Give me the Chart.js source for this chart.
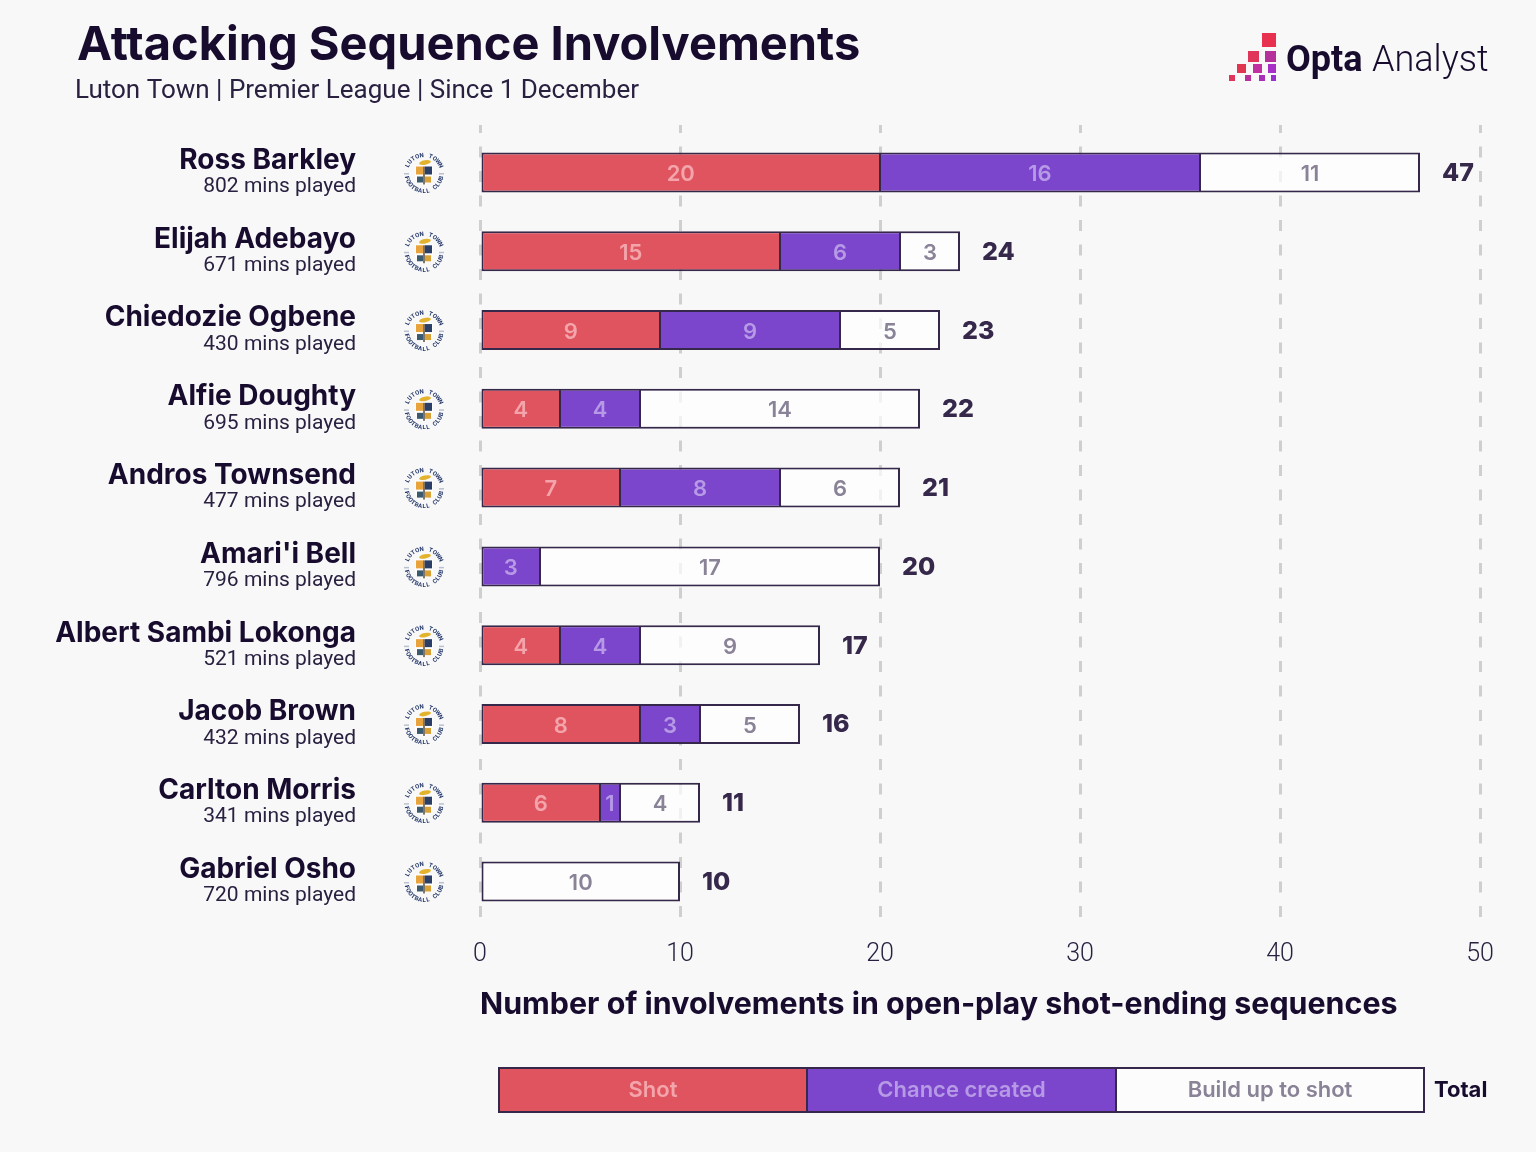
<!DOCTYPE html>
<html>
<head>
<meta charset="utf-8">
<title>Attacking Sequence Involvements</title>
<script src="https://cdn.jsdelivr.net/npm/chart.js@4"></script>
<style>
  html, body { margin: 0; padding: 0; background: #f8f8f8; }
  canvas { display: block; }
</style>
</head>
<body>
<canvas id="myChart" width="1536" height="1152"></canvas>
<script>
const players = ["Ross Barkley", "Elijah Adebayo", "Chiedozie Ogbene", "Alfie Doughty", "Andros Townsend", "Amari'i Bell", "Albert Sambi Lokonga", "Jacob Brown", "Carlton Morris", "Gabriel Osho"];
const minsPlayed = [802, 671, 430, 695, 477, 796, 521, 432, 341, 720];
const shots = [20, 15, 9, 4, 7, 0, 4, 8, 6, 0];
const chances = [16, 6, 9, 4, 8, 3, 4, 3, 1, 0];
const buildUp = [11, 3, 5, 14, 6, 17, 9, 5, 4, 10];
const totals = [47, 24, 23, 22, 21, 20, 17, 16, 11, 10];
const seriesNames = ["Shot", "Chance created", "Build up to shot"];
const xTicks = [0, 10, 20, 30, 40, 50];

const INK = "#170b2e";
const EDGE = "#35284a";
const RED = "#e0545f";
const PURPLE = "#7b45cc";
const WHITE = "rgba(255,255,255,0.7)";
const labelColors = ["#f3a5ab", "#b79ae6", "#8a8296"];
const FONT = "Roboto, sans-serif";
const WIDE = "Inter, sans-serif";

function text(ctx, str, x, y, font, color, align) {
  ctx.font = font;
  ctx.fillStyle = color;
  ctx.textAlign = align || "left";
  ctx.textBaseline = "middle";
  ctx.fillText(str, x, y);
}

// letters going round the badge
function arcText(ctx, str, cx, cy, r, midAngle, step, flip) {
  for (let i = 0; i < str.length; i++) {
    const offs = (i - (str.length - 1) / 2) * step;
    const a = flip ? midAngle - offs : midAngle + offs;
    ctx.save();
    ctx.translate(cx + r * Math.cos(a), cy + r * Math.sin(a));
    ctx.rotate(flip ? a - Math.PI / 2 : a + Math.PI / 2);
    ctx.fillText(str[i], 0, 0);
    ctx.restore();
  }
}

function drawCrest(ctx, cx, cy) {
  ctx.save();
  ctx.font = "bold 6px " + FONT;
  ctx.fillStyle = "#24386b";
  ctx.textAlign = "center";
  ctx.textBaseline = "middle";
  arcText(ctx, "LUTON TOWN", cx, cy, 18, -Math.PI / 2, 0.25, false);
  arcText(ctx, "FOOTBALL CLUB", cx, cy, 18, Math.PI / 2, 0.22, true);
  ctx.fillStyle = "#b9c0cf";
  ctx.fillRect(cx - 20, cy - 0.5, 5, 1.5);
  ctx.fillRect(cx + 15, cy - 0.5, 5, 1.5);
  // shield
  const l = cx - 8, t = cy - 7, w = 16, h = 18;
  ctx.fillStyle = "#fff";
  ctx.beginPath();
  ctx.moveTo(l - 1, t - 1);
  ctx.lineTo(l + w + 1, t - 1);
  ctx.lineTo(l + w + 1, t + h * 0.7);
  ctx.lineTo(cx, t + h + 1);
  ctx.lineTo(l - 1, t + h * 0.7);
  ctx.closePath();
  ctx.fill();
  ctx.fillStyle = "#e8a33d";
  ctx.fillRect(l, t, w / 2 - 1, h / 2 - 1);
  ctx.fillStyle = "#2b3f66";
  ctx.fillRect(l + w / 2 + 1, t, w / 2 - 1, h / 2 - 1);
  ctx.fillStyle = "#3c5a6e";
  ctx.fillRect(l + 1, t + h / 2 + 1, w / 2 - 2, h / 2 - 3);
  ctx.fillStyle = "#d9a033";
  ctx.fillRect(l + w / 2 + 1, t + h / 2 + 1, w / 2 - 2, h / 2 - 3);
  ctx.fillStyle = "#5a4a38";
  ctx.fillRect(cx - 0.75, t, 1.5, h);
  ctx.fillStyle = "#e3b32e";
  ctx.beginPath();
  ctx.ellipse(cx + 1, t - 4, 6, 2.2, -0.2, 0, Math.PI * 2);
  ctx.fill();
  ctx.restore();
}

function drawLogo(ctx) {
  const squares = [
    [1262, 33, 14, 14, "#e8304f"], [1248, 51, 11, 11, "#e0355a"], [1265, 51, 11, 11, "#b5309a"],
    [1237, 64, 9, 9, "#e0354f"], [1253, 64, 9, 9, "#c030a0"], [1268, 64, 8, 9, "#a830c8"],
    [1229, 75, 6, 6, "#e0355a"], [1245, 75, 6, 6, "#b8309c"], [1259, 75, 6, 6, "#a830b8"], [1271, 75, 5, 6, "#9a30d0"]
  ];
  squares.forEach(s => {
    ctx.fillStyle = s[4];
    ctx.fillRect(s[0], s[1], s[2], s[3]);
  });
  text(ctx, "Opta", 1286, 62, "bold 36px " + FONT, INK);
  text(ctx, "Analyst", 1372, 62, "300 36px " + FONT, INK);
}

function drawLegend(ctx) {
  const fills = [RED, PURPLE, "#fcfcfc"];
  const edges = [499, 807, 1116, 1424];
  const top = 1068, h = 44;
  seriesNames.forEach((name, i) => {
    ctx.fillStyle = fills[i];
    ctx.fillRect(edges[i], top, edges[i + 1] - edges[i], h);
    ctx.strokeStyle = EDGE;
    ctx.lineWidth = 2;
    ctx.strokeRect(edges[i], top, edges[i + 1] - edges[i], h);
    text(ctx, name, (edges[i] + edges[i + 1]) / 2, top + h / 2, "600 22px " + WIDE, labelColors[i], "center");
  });
  text(ctx, "Total", 1434, top + h / 2, "bold 22px " + WIDE, INK);
}

const sheetPlugin = {
  id: "sheet",
  beforeDraw(chart) {
    const ctx = chart.ctx;
    ctx.save();
    ctx.fillStyle = "#f8f8f8";
    ctx.fillRect(0, 0, chart.width, chart.height);
    text(ctx, "Attacking Sequence Involvements", 77, 46, "bold 47px " + WIDE, INK);
    text(ctx, "Luton Town | Premier League | Since 1 December", 75, 91, "400 26px " + FONT, "#2a2040");
    drawLogo(ctx);
    drawLegend(ctx);
    ctx.restore();
  },
  afterDatasetsDraw(chart) {
    const ctx = chart.ctx;
    const x = chart.scales.x, y = chart.scales.y;
    ctx.save();
    chart.data.datasets.forEach((ds, d) => {
      chart.getDatasetMeta(d).data.forEach((bar, i) => {
        if (!ds.data[i]) return;
        const c = bar.getCenterPoint();
        text(ctx, String(ds.data[i]), c.x, c.y + 2, "600 22px " + WIDE, labelColors[d], "center");
      });
    });
    players.forEach((name, i) => {
      const py = y.getPixelForValue(i);
      text(ctx, minsPlayed[i] + " mins played", 356, py + 14.5, "400 21px " + FONT, "#2a2040", "right");
      drawCrest(ctx, 424, py + 1);
      text(ctx, String(totals[i]), x.getPixelForValue(totals[i]) + 22, py + 1, "800 25px " + WIDE, EDGE);
    });
    ctx.restore();
  }
};

// segments share an edge, so inner sides get half width and the seam stays 2px
function segmentBorder(c) {
  if (c.dataIndex === undefined) return 2;
  const before = c.chart.data.datasets.slice(0, c.datasetIndex).reduce((n, ds) => n + ds.data[c.dataIndex], 0);
  const isLast = c.datasetIndex === c.chart.data.datasets.length - 1;
  return { top: 2, bottom: 2, left: before === 0 ? 2 : 1, right: isLast ? 2 : 1 };
}

const barStyle = { borderColor: EDGE, borderWidth: segmentBorder, inflateAmount: 0, borderSkipped: false, barThickness: 40 };

new Chart(document.getElementById("myChart").getContext("2d"), {
  type: "bar",
  plugins: [sheetPlugin],
  data: {
    labels: players.map((p, i) => i),
    datasets: [
      Object.assign({ label: seriesNames[0], data: shots, backgroundColor: RED }, barStyle),
      Object.assign({ label: seriesNames[1], data: chances, backgroundColor: PURPLE }, barStyle),
      Object.assign({ label: seriesNames[2], data: buildUp, backgroundColor: WHITE }, barStyle)
    ]
  },
  options: {
    indexAxis: "y",
    responsive: false,
    animation: false,
    layout: { padding: { top: 125, right: 56, bottom: 129, left: 0 } },
    plugins: { legend: { display: false }, tooltip: { enabled: false } },
    scales: {
      x: {
        stacked: true,
        min: 0,
        max: 50,
        afterFit(scale) { scale.height = 93; },
        afterBuildTicks(scale) { scale.ticks = xTicks.map(v => ({ value: v })); },
        grid: { color: "#cfcfcf", lineWidth: 3, drawTicks: false },
        border: { display: false, dash: [11, 13.5], dashOffset: 3 },
        ticks: { color: "#2a2040", padding: 10, maxRotation: 0, font: { family: FONT, size: 25, weight: "300" } },
        title: {
          display: true,
          text: "Number of involvements in open-play shot-ending sequences",
          align: "start",
          color: INK,
          padding: 0,
          font: { family: WIDE, size: 30.4, weight: "bold" }
        }
      },
      y: {
        type: "linear",
        offset: false,
        stacked: true,
        reverse: true,
        min: -0.603,
        max: 9.616,
        // labels must not push the plot area down
        afterFit(scale) { scale.width = 480; scale.paddingTop = 0; scale.paddingBottom = 0; },
        afterBuildTicks(scale) { scale.ticks = players.map((p, i) => ({ value: i })); },
        grid: { display: false, drawTicks: false },
        border: { display: false },
        ticks: {
          callback: v => players[v],
          autoSkip: false,
          padding: 124,
          labelOffset: -12,
          color: INK,
          font: { family: WIDE, size: 28, weight: "bold" }
        }
      }
    }
  }
});
</script>
</body>
</html>
